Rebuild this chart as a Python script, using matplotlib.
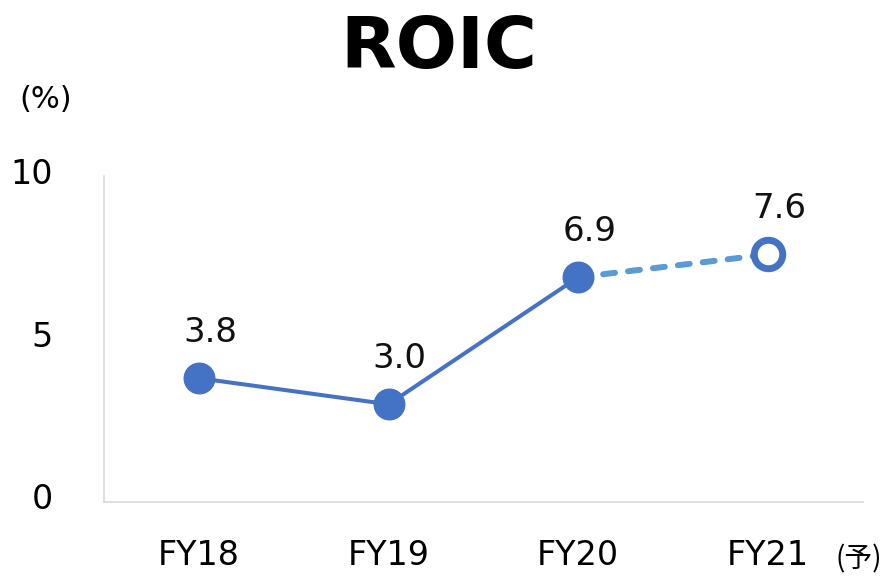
import matplotlib
matplotlib.use("Agg")
import matplotlib.pyplot as plt
from matplotlib.transforms import ScaledTranslation

plt.rcParams['font.family'] = ['DejaVu Sans', 'Noto Sans CJK JP']

# ROIC by fiscal year, FY21 is a forecast
years = ['FY18', 'FY19', 'FY20', 'FY21']
roic = [3.8, 3.0, 6.9, 7.6]
labels = ['3.8', '3.0', '6.9', '7.6']
yticks = [0, 5, 10]

solid_c = '#4472C4'
dash_c = '#5B9BD5'

fig = plt.figure(figsize=(8.95, 5.76), dpi=100)
ax = fig.add_axes([0.1162, 0.1285, 0.8478, 0.5655])

x = list(range(len(years)))

# forecast segment first so the markers sit on top
ax.plot(x[2:], roic[2:], color=dash_c, lw=4.3, ls=(0, (2, 2.2)),
        dash_capstyle='round', zorder=2)
ax.plot(x[:3], roic[:3], color=solid_c, lw=2.9, marker='o', ms=22,
        mfc=solid_c, mec=solid_c, zorder=3)
ax.plot(x[3], roic[3], marker='o', ms=20.5, mfc='white', mec=solid_c,
        mew=5, zorder=3)

for xi, v, t in zip(x, roic, labels):
    ax.annotate(t, (xi, v), xytext=(8, 26), textcoords='offset points',
                ha='center', va='baseline', fontsize=24.5, color='#111111')

ax.set_xlim(-0.5, 3.5)
ax.set_ylim(0, 10)
ax.set_xticks(x)
ax.set_xticklabels(years, fontsize=24)
ax.set_yticks(yticks)
ax.set_yticklabels([str(v) for v in yticks], fontsize=24)
ax.tick_params(length=0)
ax.tick_params(axis='x', pad=27)
ax.tick_params(axis='y', pad=37)

# y labels sit a little above their gridline values
shift = ScaledTranslation(0, 4 / 72, fig.dpi_scale_trans)
for lab in ax.get_yticklabels():
    lab.set_transform(lab.get_transform() + shift)

for s in ['top', 'right']:
    ax.spines[s].set_visible(False)
for s in ['left', 'bottom']:
    ax.spines[s].set_color('#d9d9d9')
    ax.spines[s].set_linewidth(1.2)

fig.text(0.49, 0.882, 'ROIC', ha='center', va='baseline', fontsize=52,
         fontweight='bold')
fig.text(0.022, 0.828, '(%)', ha='left', va='center', fontsize=22)
fig.text(0.934, 0.028, '(予)', ha='left', va='center', fontsize=20,
         family=['Noto Sans CJK JP', 'DejaVu Sans'])

fig.savefig('out.png', dpi=100)
